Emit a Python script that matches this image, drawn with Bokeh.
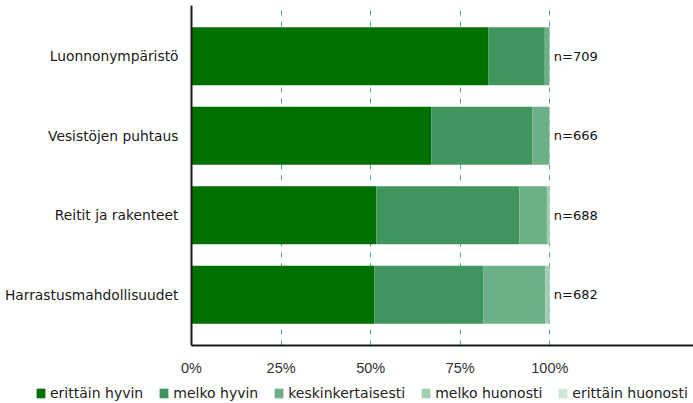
from bokeh.plotting import figure
from bokeh.layouts import column
from bokeh.models import ColumnDataSource, FactorRange, Range1d, FixedTicker, Legend, LegendItem
from bokeh.core.properties import value
from bokeh.embed import file_html
from bokeh.resources import INLINE

categories = ["Luonnonympäristö", "Vesistöjen puhtaus", "Reitit ja rakenteet", "Harrastusmahdollisuudet"]
series_names = ["erittäin hyvin", "melko hyvin", "keskinkertaisesti", "melko huonosti", "erittäin huonosti"]
erittain_hyvin = [82.9, 66.9, 51.6, 51.0]
melko_hyvin = [15.7, 28.2, 39.9, 30.4]
keskinkertaisesti = [1.2, 4.7, 7.7, 17.4]
melko_huonosti = [0.2, 0.2, 0.8, 1.2]
erittain_huonosti = [0.0, 0.0, 0.0, 0.0]
n_labels = ["n=709", "n=666", "n=688", "n=682"]
tick_values = [0, 25, 50, 75, 100]
tick_labels = ["0%", "25%", "50%", "75%", "100%"]

colors = ["#007000", "#40955f", "#6db087", "#a0cfb0", "#cfe6d6"]
keys = ["s0", "s1", "s2", "s3", "s4"]

data = {"cat": categories}
for k, vals in zip(keys, [erittain_hyvin, melko_hyvin, keskinkertaisesti, melko_huonosti, erittain_huonosti]):
    data[k] = [v / 100 for v in vals]
data["n"] = n_labels
data["one"] = [1.0] * len(categories)
source = ColumnDataSource(data)

FONT = "DejaVu Sans"

p = figure(
    width=693, height=378,
    y_range=FactorRange(factors=list(reversed(categories)), range_padding=0.14, range_padding_units="absolute"),
    x_range=Range1d(0, 1.401),
    output_backend="svg", toolbar_location=None,
    min_border_left=191, min_border_right=0, min_border_top=5, min_border_bottom=32,
)
p.outline_line_color = None
p.background_fill_color = "white"

renderers = p.hbar_stack(keys, y="cat", height=0.73, color=colors, line_color=None, source=source)

p.text(x="one", y="cat", text="n", source=source, x_offset=4,
       text_baseline="middle", text_align="left",
       text_font=value(FONT), text_font_size="13px", text_color="#111111")

# axes
p.xaxis.ticker = FixedTicker(ticks=[t / 100 for t in tick_values])
p.xaxis.major_label_overrides = {t / 100: l for t, l in zip(tick_values, tick_labels)}
p.xaxis.major_tick_line_color = None
p.xaxis.minor_tick_line_color = None
p.xaxis.axis_line_color = "#1a1a1a"
p.xaxis.axis_line_width = 2
p.xaxis.major_label_text_font = "Liberation Sans"
p.xaxis.major_label_text_font_size = "14.5px"
p.xaxis.major_label_text_color = "#333333"
p.xaxis.major_label_standoff = 8

p.yaxis.major_tick_line_color = None
p.yaxis.minor_tick_line_color = None
p.yaxis.axis_line_color = "#1a1a1a"
p.yaxis.axis_line_width = 2
p.yaxis.major_label_text_font = FONT
p.yaxis.major_label_text_font_size = "13.8px"
p.yaxis.major_label_text_color = "#1a1a1a"
p.yaxis.major_label_standoff = 7

p.ygrid.grid_line_color = None
p.xgrid.grid_line_color = "#4caf7a"
p.xgrid.grid_line_dash = "5 6"
p.xgrid.grid_line_width = 1
p.xgrid.level = "underlay"

# legend strip below the chart (swatch glyphs sit outside the visible range)
lf = figure(width=693, height=25, x_range=Range1d(0, 1), y_range=Range1d(0, 1),
            output_backend="svg", toolbar_location=None,
            min_border_left=0, min_border_right=0, min_border_top=0, min_border_bottom=0)
lf.outline_line_color = None
lf.axis.visible = False
lf.grid.grid_line_color = None
dummies = [lf.hbar(y=[5], left=[5], right=[6], height=1, color=c, line_color=None) for c in colors]
items = [LegendItem(label=name, renderers=[r]) for name, r in zip(series_names, dummies)]
leg = Legend(items=items, orientation="horizontal", location=(35, 2))
leg.border_line_color = None
leg.background_fill_alpha = 0
leg.padding = 0
leg.margin = 0
leg.spacing = 15
leg.glyph_width = 11
leg.glyph_height = 12
leg.label_standoff = 4
leg.label_height = 14
leg.label_text_font = FONT
leg.label_text_font_size = "14px"
leg.label_text_color = "#222222"
lf.add_layout(leg, "center")

layout = column(p, column(lf, spacing=0), spacing=0)

open("out.html", "w").write(file_html(layout, INLINE))
